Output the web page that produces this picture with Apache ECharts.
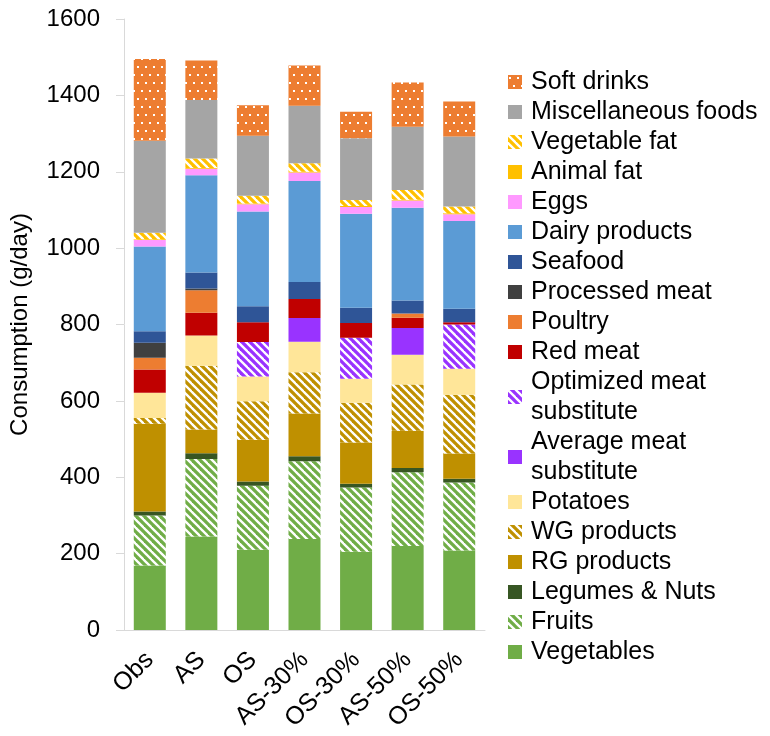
<!DOCTYPE html>
<html>
<head>
<meta charset="UTF-8">
<title>Daily food consumption by scenario</title>
<script src="https://cdn.jsdelivr.net/npm/echarts@6/dist/echarts.min.js"></script>
<style>html, body { margin: 0; padding: 0; background: #fff; }</style>
</head>
<body>
<div id="main" style="width: 770px; height: 736px;"></div>
<script type="text/javascript">
    // scenarios on the x axis
    var scenarios = ['Obs', 'AS', 'OS', 'AS-30%', 'OS-30%', 'AS-50%', 'OS-50%'];

    // g/day per food group, one value per scenario
    var vegetables    = [169, 245, 210, 238, 205, 220, 208];
    var fruits        = [131, 203, 168, 204, 168, 193, 178];
    var legumesNuts   = [10, 15, 11, 13, 10, 11, 10];
    var rgProducts    = [230, 62, 109, 112, 108, 98, 66];
    var wgProducts    = [15, 167, 101, 108, 104, 121, 154];
    var potatoes      = [66, 79, 65, 80, 63, 78, 68];
    var avgMeatSub    = [0, 0, 0, 62, 0, 70, 0];
    var optMeatSub    = [0, 0, 90, 0, 107, 0, 116];
    var redMeat       = [61, 60, 52, 50, 39, 27, 6];
    var poultry       = [31, 59, 0, 0, 0, 11, 0];
    var processedMeat = [39, 4, 0, 0, 0, 0, 0];
    var seafood       = [30, 42, 42, 44, 40, 34, 35];
    var dairy         = [222, 255, 248, 265, 246, 243, 230];
    var eggs          = [17, 17, 19, 22, 18, 19, 18];
    var animalFat     = [2, 2, 2, 2, 2, 2, 2];
    var vegetableFat  = [17, 25, 20, 22, 16, 25, 18];
    var miscFoods     = [241, 153, 157, 151, 162, 166, 183];
    var softDrinks    = [214, 103, 80, 105, 69, 116, 92];

    var FONT = '"Liberation Sans", Arial, sans-serif';

    // white diagonal stripes over a fill colour
    function stripes(color) {
        var c = document.createElement('canvas');
        c.width = 8; c.height = 8;
        var ctx = c.getContext('2d');
        ctx.fillStyle = color;
        ctx.fillRect(0, 0, 8, 8);
        ctx.strokeStyle = '#fff';
        ctx.lineWidth = 2.3;
        for (var k = -8; k <= 8; k += 8) {
            ctx.beginPath();
            ctx.moveTo(k - 1, -1);
            ctx.lineTo(k + 9, 9);
            ctx.stroke();
        }
        return { image: c, repeat: 'repeat' };
    }

    // white dots over a fill colour
    function dots(color) {
        var c = document.createElement('canvas');
        c.width = 8; c.height = 16;
        var ctx = c.getContext('2d');
        ctx.fillStyle = color;
        ctx.fillRect(0, 0, 8, 16);
        ctx.fillStyle = '#fff';
        ctx.fillRect(1, 2, 2, 2);
        ctx.fillRect(5, 10, 2, 2);
        return { image: c, repeat: 'repeat' };
    }

    // bottom to top of each stack
    var groups = [
        { name: 'Vegetables', data: vegetables, color: '#70AD47' },
        { name: 'Fruits', data: fruits, color: stripes('#70AD47') },
        { name: 'Legumes & Nuts', data: legumesNuts, color: '#375623' },
        { name: 'RG products', data: rgProducts, color: '#BF9000' },
        { name: 'WG products', data: wgProducts, color: stripes('#BF9000') },
        { name: 'Potatoes', data: potatoes, color: '#FFE699' },
        { name: 'Average meat substitute', data: avgMeatSub, color: '#9933FF' },
        { name: 'Optimized meat substitute', data: optMeatSub, color: stripes('#9933FF') },
        { name: 'Red meat', data: redMeat, color: '#C00000' },
        { name: 'Poultry', data: poultry, color: '#ED7D31' },
        { name: 'Processed meat', data: processedMeat, color: '#404040' },
        { name: 'Seafood', data: seafood, color: '#2F5597' },
        { name: 'Dairy products', data: dairy, color: '#5B9BD5' },
        { name: 'Eggs', data: eggs, color: '#FF99FF' },
        { name: 'Animal fat', data: animalFat, color: '#FFC000' },
        { name: 'Vegetable fat', data: vegetableFat, color: stripes('#FFC000') },
        { name: 'Miscellaneous foods', data: miscFoods, color: '#A5A5A5' },
        { name: 'Soft drinks', data: softDrinks, color: dots('#ED7D31') }
    ];

    var series = groups.map(function (g) {
        return {
            name: g.name,
            type: 'bar',
            stack: 'total',
            barWidth: 32,
            data: g.data,
            itemStyle: { color: g.color, borderWidth: 0 }
        };
    });

    var legendNames = groups.map(function (g) { return g.name; }).reverse();

    var chart = echarts.init(document.getElementById('main'), null, { renderer: 'canvas' });

    chart.setOption({
        animation: false,
        backgroundColor: '#fff',
        grid: { left: 124, right: 285, top: 19, bottom: 106, outerBoundsMode: 'none' },
        legend: {
            orient: 'vertical',
            left: 508,
            top: 67,
            padding: 0,
            itemGap: 0,
            itemWidth: 14,
            itemHeight: 14,
            icon: 'rect',
            data: legendNames,
            itemStyle: { borderWidth: 0 },
            textStyle: { fontSize: 25, fontFamily: FONT, color: '#000', lineHeight: 30, padding: [0, 0, 0, 4] },
            formatter: function (name) {
                return name.replace(' meat substitute', ' meat\nsubstitute');
            }
        },
        xAxis: {
            type: 'category',
            data: scenarios,
            axisLine: { lineStyle: { color: '#D9D9D9', width: 1 } },
            axisTick: { show: false },
            axisLabel: { rotate: 45, fontSize: 25, fontFamily: FONT, color: '#000', margin: 26, interval: 0 }
        },
        yAxis: {
            type: 'value',
            min: 0,
            max: 1600,
            interval: 200,
            name: 'Consumption (g/day)',
            nameLocation: 'middle',
            nameGap: 92,
            nameTextStyle: { fontSize: 24, fontFamily: FONT, color: '#000' },
            axisLine: { show: true, lineStyle: { color: '#D9D9D9', width: 1 } },
            axisTick: { show: true, length: 8, lineStyle: { color: '#D9D9D9' } },
            splitLine: { show: false },
            axisLabel: {
                fontSize: 24, fontFamily: FONT, color: '#000', margin: 24,
                formatter: function (v) { return String(v); }
            }
        },
        series: series
    });
</script>
</body>
</html>
